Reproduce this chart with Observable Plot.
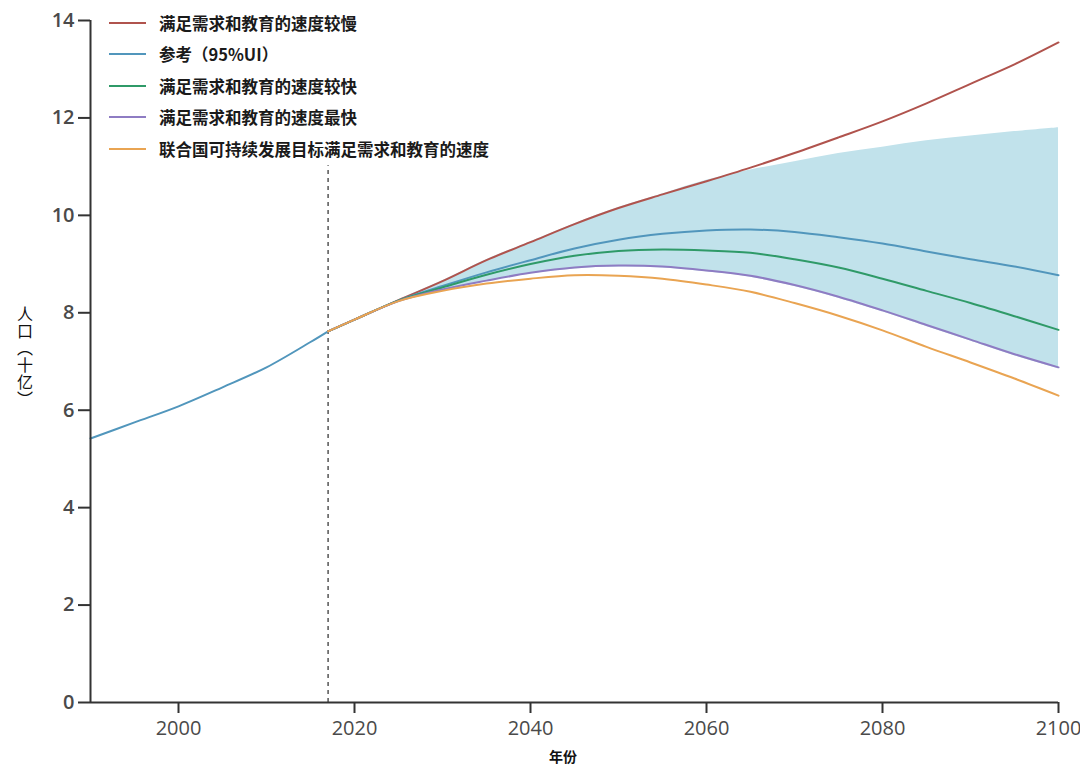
<!DOCTYPE html>
<html>
<head>
<meta charset="utf-8">
<script src="https://cdn.jsdelivr.net/npm/d3@7"></script>
<script src="https://cdn.jsdelivr.net/npm/@observablehq/plot@0.6"></script>
<style>
  html, body { margin: 0; padding: 0; background: #fff; }
  #wrap { position: relative; width: 1080px; height: 772px; }
  #legend { position: absolute; left: 109px; top: 7px; font-family: "Noto Sans CJK SC", sans-serif; font-weight: 700; font-size: 16.5px; color: #1a1a1a; }
  #legend .row { display: flex; align-items: center; height: 31.5px; }
  #legend .sw { width: 37px; height: 2px; margin-right: 13px; }
  #ytitle { position: absolute; left: 13px; top: 306px; writing-mode: vertical-rl; font-family: "Noto Sans CJK SC", sans-serif; font-size: 16px; color: #111; letter-spacing: 1px; }
  #xtitle { position: absolute; left: 0; width: 1126px; text-align: center; top: 746px; font-family: "Noto Sans CJK SC", sans-serif; font-weight: 700; font-size: 14px; color: #111; }
  svg [aria-label="y-axis tick label"] text { fill: #4a4a4a; font-weight: 600; }
  svg [aria-label="x-axis tick label"] text { fill: #4a4a4a; }
</style>
</head>
<body>
<div id="wrap"></div>
<script>
// ---- data ----
const histYears = [1990, 1995, 2000, 2005, 2010, 2015, 2017];
const histPop   = [5.42, 5.75, 6.08, 6.47, 6.88, 7.40, 7.62];

const projYears = [2017,2020,2025,2030,2035,2040,2045,2050,2055,2060,2065,2070,2075,2080,2085,2090,2095,2100];
const slowerPop    = [7.62,7.86,8.26,8.65,9.08,9.45,9.82,10.15,10.43,10.70,10.98,11.28,11.60,11.93,12.30,12.70,13.10,13.55];
const referencePop = [7.62,7.86,8.25,8.55,8.83,9.08,9.32,9.50,9.62,9.69,9.71,9.66,9.55,9.42,9.26,9.10,8.95,8.77];
const fasterPop    = [7.62,7.86,8.25,8.52,8.78,9.00,9.17,9.27,9.30,9.28,9.23,9.10,8.93,8.70,8.45,8.20,7.93,7.65];
const fastestPop   = [7.62,7.86,8.24,8.48,8.66,8.82,8.93,8.97,8.95,8.87,8.76,8.57,8.33,8.05,7.75,7.45,7.15,6.88];
const sdgPop       = [7.62,7.86,8.24,8.45,8.60,8.70,8.77,8.76,8.70,8.58,8.43,8.20,7.94,7.64,7.30,6.98,6.65,6.30];
const uiUpper      = [7.62,7.86,8.27,8.66,9.09,9.46,9.83,10.16,10.44,10.72,10.93,11.10,11.27,11.40,11.53,11.63,11.72,11.80];
const uiLower      = [7.62,7.86,8.23,8.46,8.64,8.80,8.90,8.94,8.92,8.84,8.73,8.54,8.30,8.02,7.72,7.42,7.12,6.85];

const seriesNames = ["满足需求和教育的速度较慢", "参考（95%UI）", "满足需求和教育的速度较快", "满足需求和教育的速度最快", "联合国可持续发展目标满足需求和教育的速度"];
const seriesColors = ["#b0534d", "#5196bc", "#2f9a68", "#8e7cc3", "#e9a452"];
const seriesValues = [slowerPop, referencePop, fasterPop, fastestPop, sdgPop];

const xTicks = [2000, 2020, 2040, 2060, 2080, 2100];
const yTicks = [0, 2, 4, 6, 8, 10, 12, 14];
const baseYear = 2017;
const baseLineTop = 11.02;
const yTitle = "人口（十亿）";
const xTitle = "年份";

// ---- build tables ----
const hist = histYears.map((y, i) => ({year: y, pop: histPop[i]}));
const band = projYears.map((y, i) => ({year: y, lo: uiLower[i], hi: uiUpper[i]}));
const proj = seriesNames.flatMap((name, s) => projYears.map((y, i) => ({year: y, pop: seriesValues[s][i], name})));

const plot = Plot.plot({
  width: 1080,
  height: 772,
  marginLeft: 90,
  marginRight: 22,
  marginTop: 20,
  marginBottom: 70,
  style: {fontFamily: "Open Sans, DejaVu Sans, sans-serif", fontSize: "16px", background: "transparent"},
  x: {domain: [1990, 2100]},
  y: {domain: [0, 14]},
  color: {domain: seriesNames, range: seriesColors},
  marks: [
    Plot.areaY(band, {x: "year", y1: "lo", y2: "hi", fill: "#c1e2eb", curve: "catmull-rom"}),
    Plot.ruleX([baseYear], {y1: 0, y2: baseLineTop, stroke: "#555", strokeWidth: 1.5, strokeDasharray: "4,4"}),
    Plot.line(hist, {x: "year", y: "pop", stroke: seriesColors[1], strokeWidth: 2, curve: "catmull-rom"}),
    Plot.line(proj, {x: "year", y: "pop", z: "name", stroke: "name", strokeWidth: 2, curve: "catmull-rom"}),
    Plot.axisX({ticks: xTicks, tickFormat: d => String(d), tickSize: 11, tickPadding: 7, label: null, stroke: "#333", strokeWidth: 2, fontSize: 20}),
    Plot.axisY({ticks: yTicks, tickSize: 12, tickPadding: 4, label: null, stroke: "#333", strokeWidth: 2, fontSize: 20}),
    Plot.ruleY([0], {stroke: "#333", strokeWidth: 2}),
    Plot.ruleX([1990], {y1: 0, y2: 14, stroke: "#333", strokeWidth: 2})
  ]
});

const wrap = document.getElementById("wrap");
wrap.appendChild(plot);

const legend = document.createElement("div");
legend.id = "legend";
seriesNames.forEach((name, i) => {
  const row = document.createElement("div");
  row.className = "row";
  const sw = document.createElement("span");
  sw.className = "sw";
  sw.style.background = seriesColors[i];
  const t = document.createElement("span");
  t.textContent = name;
  row.appendChild(sw);
  row.appendChild(t);
  legend.appendChild(row);
});
wrap.appendChild(legend);

const yt = document.createElement("div");
yt.id = "ytitle";
yt.textContent = yTitle;
wrap.appendChild(yt);

const xt = document.createElement("div");
xt.id = "xtitle";
xt.textContent = xTitle;
wrap.appendChild(xt);
</script>
</body>
</html>
